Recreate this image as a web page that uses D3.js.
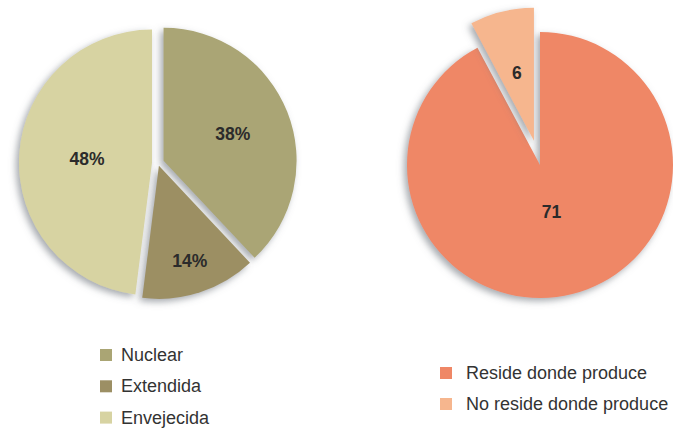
<!DOCTYPE html>
<html>
<head>
<meta charset="utf-8">
<script src="https://cdn.jsdelivr.net/npm/d3@7"></script>
<style>
  html, body { margin: 0; padding: 0; background: #ffffff; }
  svg { display: block; }
</style>
</head>
<body>
<div id="chart"></div>
<script>
// ---- Data ----
const familyCategories = ["Nuclear", "Extendida", "Envejecida"];
const familyValues = [38, 14, 48];
const familyLabels = ["38%", "14%", "48%"];

const residenceCategories = ["Reside donde produce", "No reside donde produce"];
const residenceValues = [71, 6];
const residenceLabels = ["71", "6"];

// ---- Styling / layout ----
const familyColors = ["#aaa574", "#9c8f64", "#d7d3a2"];
const residenceColors = ["#ef8766", "#f6b68e"];

const W = 673, H = 428;
const layout = {
  left:  { cx: 158, cy: 163, r: 133, explode: [6, 3, 6], labelR: [0.56, 0.75, 0.49] },
  right: { cx: 540, cy: 165, r: 133, explode: [0, 25], labelR: [0.36, 0.53] }
};

const svg = d3.select("#chart").append("svg")
  .attr("width", W).attr("height", H);

const defs = svg.append("defs");
const filt = defs.append("filter").attr("id", "shadow")
  .attr("x", "-20%").attr("y", "-20%").attr("width", "140%").attr("height", "140%");
filt.append("feDropShadow")
  .attr("dx", -3).attr("dy", 3).attr("stdDeviation", 3.5)
  .attr("flood-color", "#6b6f78").attr("flood-opacity", 0.6);

function drawPie(values, labels, colors, cfg) {
  const pie = d3.pie().sort(null).value(d => d);
  const arcs = pie(values);
  const arc = d3.arc().innerRadius(0).outerRadius(cfg.r);
  const g = svg.append("g").attr("transform", `translate(${cfg.cx},${cfg.cy})`);

  const slices = g.selectAll("g.slice").data(arcs).join("g")
    .attr("class", "slice")
    .attr("transform", (d, i) => {
      const a = (d.startAngle + d.endAngle) / 2;
      const o = cfg.explode[i];
      return `translate(${Math.sin(a) * o},${-Math.cos(a) * o})`;
    });

  slices.append("path")
    .attr("d", arc)
    .attr("fill", (d, i) => colors[i])
    .attr("filter", "url(#shadow)");

  slices.append("text")
    .attr("transform", (d, i) => {
      const a = (d.startAngle + d.endAngle) / 2;
      const lr = cfg.labelR[i] * cfg.r;
      return `translate(${Math.sin(a) * lr},${-Math.cos(a) * lr})`;
    })
    .attr("text-anchor", "middle")
    .attr("dy", "0.36em")
    .attr("font-family", "Liberation Sans, Arial, sans-serif")
    .attr("font-weight", "bold")
    .attr("font-size", 17.5)
    .attr("fill", "#2b2b2b")
    .text((d, i) => labels[i]);
}

drawPie(familyValues, familyLabels, familyColors, layout.left);
drawPie(residenceValues, residenceLabels, residenceColors, layout.right);

function drawLegend(cats, colors, x, y0, step, textDx) {
  const g = svg.append("g");
  const rows = g.selectAll("g").data(cats).join("g")
    .attr("transform", (d, i) => `translate(${x},${y0 + i * step})`);
  rows.append("rect")
    .attr("x", 0).attr("y", -12).attr("width", 12).attr("height", 12)
    .attr("fill", (d, i) => colors[i]);
  rows.append("text")
    .attr("x", textDx).attr("y", 0)
    .attr("font-family", "Liberation Sans, Arial, sans-serif")
    .attr("font-size", 18)
    .attr("fill", "#333333")
    .text(d => d);
}

drawLegend(familyCategories, familyColors, 100, 361, 31.3, 21);
drawLegend(residenceCategories, residenceColors, 440, 379, 31, 26);
</script>
</body>
</html>
